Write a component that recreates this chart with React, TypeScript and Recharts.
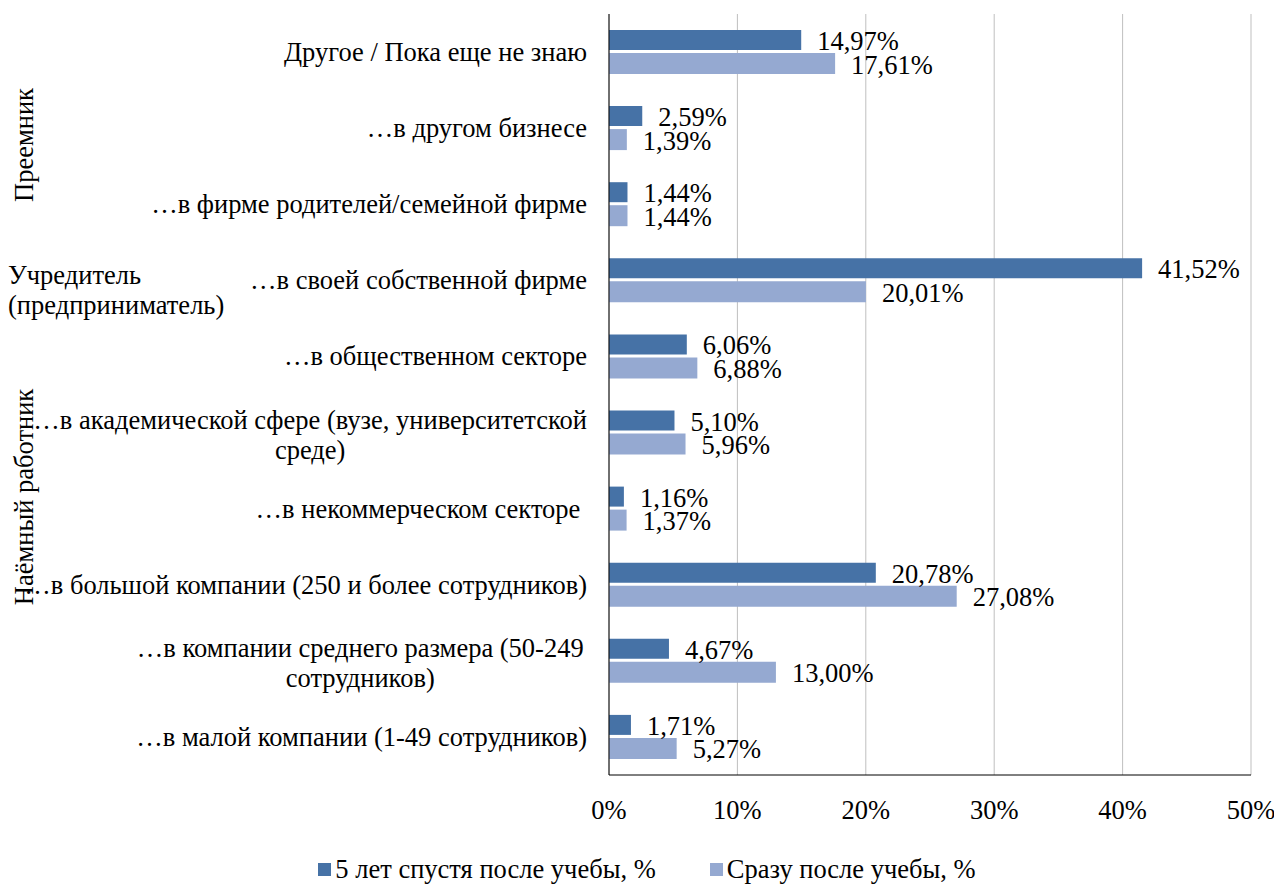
import React from 'react';
import {
  BarChart,
  Bar,
  XAxis,
  YAxis,
  CartesianGrid,
  Legend,
  LabelList,
} from 'recharts';

const FONT = 'Liberation Serif';
const FS = 26.5;

const categories = [
  'Другое / Пока еще не знаю',
  '…в другом бизнесе',
  '…в фирме родителей/семейной фирме',
  '…в своей собственной фирме',
  '…в общественном секторе',
  '…в академической сфере (вузе, университетской\nсреде)',
  '…в некоммерческом секторе ',
  '…в большой компании (250 и более сотрудников)',
  '…в компании среднего размера (50-249 \nсотрудников)',
  '…в малой компании (1-49 сотрудников)',
];

const after5Years = [14.97, 2.59, 1.44, 41.52, 6.06, 5.1, 1.16, 20.78, 4.67, 1.71];
const rightAfter = [17.61, 1.39, 1.44, 20.01, 6.88, 5.96, 1.37, 27.08, 13.0, 5.27];

const xTicks = [0, 10, 20, 30, 40, 50];

const seriesNames = ['5 лет спустя после учебы, %', 'Сразу после учебы, %'];
const seriesColors = ['#4672A6', '#95A9D1'];

const data = categories.map((name, i) => ({
  name,
  after5: after5Years[i],
  right: rightAfter[i],
}));

const fmt = (v: number) => v.toFixed(2).replace('.', ',') + '%';

let ctx: CanvasRenderingContext2D | null = null;
function measure(text: string) {
  if (!ctx) {
    ctx = document.createElement('canvas').getContext('2d');
    if (ctx) ctx.font = `${FS}px "${FONT}"`;
  }
  return ctx ? ctx.measureText(text).width : text.length * 13;
}

function CategoryTick(props: any) {
  const { x, y, payload } = props;
  const lines: string[] = String(payload.value).split('\n');
  const style = { fontFamily: FONT, fontSize: FS, whiteSpace: 'pre' as const };
  if (lines.length === 1) {
    return (
      <text x={x} y={y} textAnchor="end" dominantBaseline="central" style={style} fill="#000">
        {lines[0]}
      </text>
    );
  }
  const maxW = Math.max(...lines.map(measure));
  const cx = x - maxW / 2;
  const lh = 30;
  const y0 = y - ((lines.length - 1) * lh) / 2 + 2;
  return (
    <g>
      {lines.map((l, i) => (
        <text key={i} x={cx} y={y0 + i * lh} textAnchor="middle" dominantBaseline="central" style={style} fill="#000">
          {l.trimEnd()}
        </text>
      ))}
    </g>
  );
}

function ValueLabel(props: any) {
  const { x, y, width, height, value } = props;
  return (
    <text
      x={x + width + 16}
      y={y + height / 2 + 1}
      dominantBaseline="central"
      style={{ fontFamily: FONT, fontSize: FS }}
      fill="#000"
    >
      {fmt(value)}
    </text>
  );
}

function LegendContent() {
  return (
    <div
      style={{
        display: 'flex',
        justifyContent: 'center',
        gap: 54,
        paddingLeft: 43,
        fontFamily: FONT,
        fontSize: FS,
        color: '#000',
        lineHeight: '30px',
      }}
    >
      {seriesNames.map((n, i) => (
        <div key={n} style={{ display: 'flex', alignItems: 'center' }}>
          <span style={{ display: 'inline-block', width: 13, height: 13, background: seriesColors[i], marginRight: 4 }} />
          <span>{n}</span>
        </div>
      ))}
    </div>
  );
}

export default function App() {
  return (
    <div style={{ position: 'absolute', left: 0, top: 0, width: 1274, height: 884, background: '#fff', fontFamily: FONT }}>
      <BarChart
        width={1274}
        height={884}
        data={data}
        layout="vertical"
        margin={{ top: 14, right: 23, left: 0, bottom: 0 }}
        barGap={3}
        style={{ fontFamily: FONT }}
      >
        <CartesianGrid horizontal={false} stroke="#BFBFBF" />
        <XAxis
          type="number"
          domain={[0, 50]}
          ticks={xTicks}
          tickFormatter={(v) => `${v}%`}
          axisLine={{ stroke: '#000' }}
          tickLine={false}
          tickMargin={19}
          height={79}
          interval={0}
          tick={{ fill: '#000', fontSize: FS, style: { fontFamily: FONT } }}
        />
        <YAxis
          type="category"
          dataKey="name"
          width={609}
          axisLine={{ stroke: '#000' }}
          tickLine={false}
          tickMargin={16}
          interval={0}
          tick={<CategoryTick />}
        />
        <Legend verticalAlign="bottom" content={<LegendContent />} />
        <Bar dataKey="after5" name={seriesNames[0]} fill={seriesColors[0]} barSize={20} isAnimationActive={false}>
          <LabelList dataKey="after5" content={<ValueLabel />} />
        </Bar>
        <Bar dataKey="right" name={seriesNames[1]} fill={seriesColors[1]} barSize={21} isAnimationActive={false}>
          <LabelList dataKey="right" content={<ValueLabel />} />
        </Bar>
      </BarChart>
      <svg width={1274} height={884} style={{ position: 'absolute', left: 0, top: 0, pointerEvents: 'none' }}>
        <g style={{ fontFamily: FONT, fontSize: FS }} fill="#000">
          <text transform="translate(33,145) rotate(-90)" textAnchor="middle">Преемник</text>
          <text x={8} y={284}>Учредитель</text>
          <text x={8} y={314}>(предприниматель)</text>
          <text transform="translate(33,497) rotate(-90)" textAnchor="middle">Наёмный работник</text>
        </g>
      </svg>
    </div>
  );
}
